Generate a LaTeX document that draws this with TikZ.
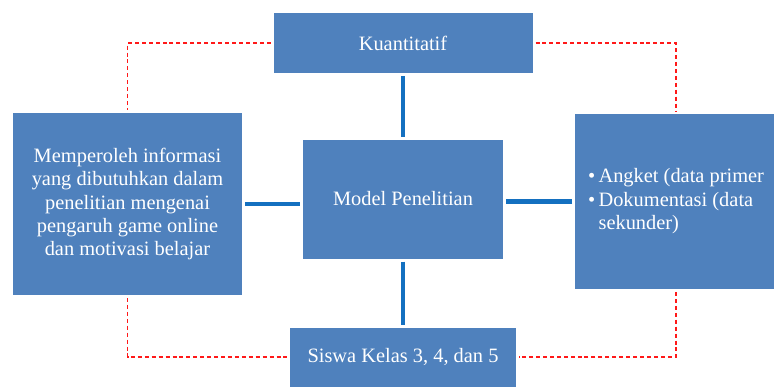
\documentclass[tikz,border=0pt]{standalone}
\usepackage{fontspec}
\setmainfont{Liberation Serif}
\usetikzlibrary{shadows}
\definecolor{kotak}{RGB}{79,129,189}
\definecolor{garis}{RGB}{20,112,192}
\tikzset{
  kotak/.style={draw=white, line width=2.25pt, fill=kotak, text=white,
    font=\rmfamily\fontsize{15.3}{17.6}\selectfont, inner sep=2pt,
    drop shadow={shadow xshift=0.9pt, shadow yshift=-1.3pt, opacity=0.3}},
  hubung/.style={garis, line width=3.6pt},
  putus/.style={red!90, line width=0.8pt, dash pattern=on 3pt off 2.2pt}
}
\begin{document}
\begin{tikzpicture}[x=0.75pt, y=-0.75pt]
	\useasboundingbox (0,0) rectangle (774,389);
	\node[kotak, minimum width=196.5pt, minimum height=47.25pt] (kuant) at (403,43) {Kuantitatif};
	\node[kotak, minimum width=174pt, minimum height=138.75pt, align=center] (tujuan) at (127.5,204)
		{Memperoleh informasi\\ yang dibutuhkan dalam\\ penelitian mengenai\\ pengaruh game online\\ dan motivasi belajar};
	\node[kotak, minimum width=152.25pt, minimum height=91.5pt] (model) at (403,199) {Model Penelitian};
	\node[kotak, minimum width=153.75pt, minimum height=133.5pt, align=left] (instrumen) at (676,201.5)
		{\textbullet\,Angket (data primer\\ \textbullet\,Dokumentasi (data\\ \hphantom{\textbullet\,}sekunder)};
	\node[kotak, minimum width=171.75pt, minimum height=46.5pt] (subjek) at (403,357) {Siswa Kelas 3, 4, dan 5};

	\draw[hubung] (model.north) -- (kuant.south);
	\draw[hubung] (model.south) -- (subjek.north);
	\draw[hubung] (tujuan.east) -- (tujuan.east -| model.west);
	\draw[hubung] (instrumen.west) -- (instrumen.west -| model.east);

	\draw[putus] (kuant.west) -| (tujuan.north);
	\draw[putus] (kuant.east) -| (instrumen.north);
	\draw[putus] (tujuan.south) |- (subjek.west);
	\draw[putus] (instrumen.south) |- (subjek.east);
\end{tikzpicture}
\end{document}
